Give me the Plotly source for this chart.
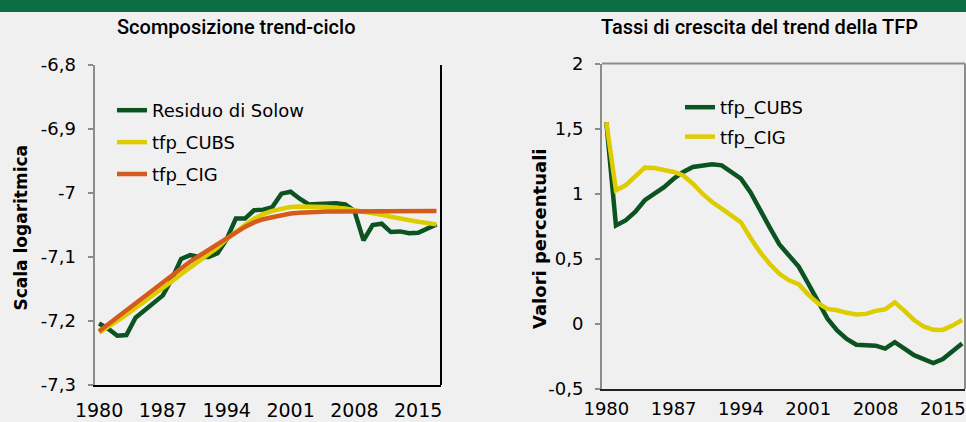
import plotly.graph_objects as go

# Anni (categorie)
years = list(range(1980, 2018))

# Scomposizione trend-ciclo (scala logaritmica)
residuo_solow = [-7.204, -7.212, -7.223, -7.222, -7.195, -7.184, -7.173, -7.160, -7.134, -7.103,
                 -7.097, -7.100, -7.100, -7.094, -7.072, -7.040, -7.040, -7.027, -7.026, -7.022,
                 -7.001, -6.998, -7.009, -7.018, -7.017, -7.016, -7.016, -7.018, -7.028, -7.074,
                 -7.050, -7.048, -7.061, -7.060, -7.063, -7.062, -7.055, -7.049]
tfp_cubs_livello = [-7.218, -7.210, -7.200, -7.190, -7.180, -7.170, -7.160, -7.149, -7.138, -7.127,
                    -7.117, -7.106, -7.095, -7.085, -7.072, -7.060, -7.050, -7.040, -7.033, -7.028,
                    -7.025, -7.022, -7.021, -7.021, -7.021, -7.022, -7.023, -7.024, -7.027, -7.029,
                    -7.031, -7.034, -7.037, -7.040, -7.043, -7.045, -7.047, -7.049]
tfp_cig_livello = [-7.216, -7.205, -7.194, -7.183, -7.172, -7.161, -7.150, -7.139, -7.128, -7.117,
                   -7.107, -7.098, -7.089, -7.079, -7.069, -7.060, -7.053, -7.046, -7.041, -7.038,
                   -7.035, -7.032, -7.031, -7.030, -7.030, -7.029, -7.029, -7.029, -7.028, -7.028,
                   -7.028, -7.028, -7.028, -7.028, -7.028, -7.028, -7.028, -7.028]

# Tassi di crescita del trend della TFP (valori percentuali)
tfp_cubs_crescita = [1.55, 0.756, 0.795, 0.86, 0.95, 1.0, 1.05, 1.115, 1.167, 1.205,
                     1.218, 1.226, 1.218, 1.167, 1.115, 1.01, 0.87, 0.74, 0.61, 0.526,
                     0.44, 0.31, 0.167, 0.04, -0.05, -0.115, -0.16, -0.167, -0.167, -0.19,
                     -0.14, -0.19, -0.24, -0.27, -0.30, -0.27, -0.21, -0.15]
tfp_cig_crescita = [1.55, 1.026, 1.064, 1.128, 1.2, 1.197, 1.185, 1.167, 1.14, 1.077,
                    1.0, 0.936, 0.885, 0.833, 0.78, 0.66, 0.55, 0.46, 0.385, 0.335,
                    0.305, 0.225, 0.16, 0.115, 0.105, 0.085, 0.072, 0.077, 0.10, 0.112,
                    0.165, 0.10, 0.03, -0.02, -0.045, -0.046, -0.013, 0.03]

# Etichette degli assi
tick_anni = [1980, 1987, 1994, 2001, 2008, 2015]
tick_anni_testo = ["1980", "1987", "1994", "2001", "2008", "2015"]
tick_sx = [-6.8, -6.9, -7.0, -7.1, -7.2, -7.3]
tick_sx_testo = ["-6,8", "-6,9", "-7", "-7,1", "-7,2", "-7,3"]
tick_dx = [2, 1.5, 1, 0.5, 0, -0.5]
tick_dx_testo = ["2", "1,5", "1", "0,5", "0", "-0,5"]

W, H = 966, 422
VERDE = "#0B5320"
GIALLO = "#DDCC00"
ARANCIO = "#D55A1B"
GRIGIO = "#8C8C8C"
SFONDO = "#F0F0F0"
FONT = "DejaVu Sans"

# separatori tra categorie (tacche dell'asse x)
confini = [y + 0.5 for y in years[:-1]]

dom_x1 = [94.5 / W, 441 / W]
dom_y1 = [1 - 385 / H, 1 - 65 / H]
dom_x2 = [602 / W, 965 / W]
dom_y2 = [1 - 389 / H, 1 - 63.5 / H]
range_x1 = [1979.5, 2017.5]
range_x2 = [1979.55, 2017.3]
range_y1 = [-7.3, -6.8]
range_y2 = [-0.5, 2]
# posizione dell'asse orizzontale sullo zero (grafico di destra)
pos_zero = dom_y2[0] + (0 - range_y2[0]) / (range_y2[1] - range_y2[0]) * (dom_y2[1] - dom_y2[0])

fig = go.Figure()

# Grafico di sinistra
fig.add_trace(go.Scatter(x=years, y=residuo_solow, name="Residuo di Solow", mode="lines",
                         line=dict(color=VERDE, width=4.5), xaxis="x", yaxis="y",
                         legend="legend", legendgroup="a"))
fig.add_trace(go.Scatter(x=years, y=tfp_cubs_livello, name="tfp_CUBS", mode="lines",
                         line=dict(color=GIALLO, width=4.5), xaxis="x", yaxis="y",
                         legend="legend", legendgroup="b"))
fig.add_trace(go.Scatter(x=years, y=tfp_cig_livello, name="tfp_CIG", mode="lines",
                         line=dict(color=ARANCIO, width=4.5), xaxis="x", yaxis="y",
                         legend="legend", legendgroup="c"))

# Grafico di destra
fig.add_trace(go.Scatter(x=years, y=tfp_cubs_crescita, name="tfp_CUBS", mode="lines",
                         line=dict(color=VERDE, width=4.5), xaxis="x2", yaxis="y2",
                         legend="legend2", legendgroup="d"))
fig.add_trace(go.Scatter(x=years, y=tfp_cig_crescita, name="tfp_CIG", mode="lines",
                         line=dict(color=GIALLO, width=4.5), xaxis="x2", yaxis="y2",
                         legend="legend2", legendgroup="e"))

fig.update_layout(
    width=W, height=H,
    margin=dict(l=0, r=0, t=0, b=0, autoexpand=False),
    paper_bgcolor=SFONDO, plot_bgcolor=SFONDO,
    font=dict(family=FONT, color="black"),
    showlegend=True,
    xaxis=dict(domain=dom_x1, anchor="y", range=range_x1, tickvals=tick_anni,
               ticktext=tick_anni_testo, ticks="", showline=True, linecolor="black",
               linewidth=1.5, showgrid=False, zeroline=False, automargin=False,
               tickfont=dict(size=19), ticklabelstandoff=7, ticklabeloverflow="allow"),
    xaxis3=dict(overlaying="x", anchor="y", side="top", range=range_x1, tickvals=confini,
                ticks="inside", ticklen=5, tickwidth=1.5, tickcolor=GRIGIO, showline=True,
                linecolor=GRIGIO, linewidth=2, showticklabels=False, showgrid=False,
                zeroline=False, automargin=False),
    yaxis=dict(domain=dom_y1, anchor="x", range=range_y1, tickvals=tick_sx,
               ticktext=tick_sx_testo, ticks="outside", ticklen=5, tickwidth=1.5,
               tickcolor=GRIGIO, showline=True, linecolor=GRIGIO, linewidth=2,
               showgrid=False, zeroline=False, tickfont=dict(size=18),
               ticklabelstandoff=8, automargin=False),
    xaxis2=dict(domain=dom_x2, anchor="y2", range=range_x2, tickvals=tick_anni,
                ticktext=tick_anni_testo, ticks="", showline=True, linecolor="#222222",
                linewidth=1.5, showgrid=False, zeroline=False, automargin=False,
                tickfont=dict(size=18), ticklabelstandoff=3, ticklabeloverflow="allow"),
    xaxis4=dict(overlaying="x2", anchor="free", position=pos_zero, side="bottom",
                range=range_x2, tickvals=confini, ticks="outside", ticklen=5, tickwidth=1.5,
                tickcolor=GRIGIO, showline=True, linecolor=GRIGIO, linewidth=2,
                showticklabels=False, showgrid=False, zeroline=False, automargin=False),
    yaxis2=dict(domain=dom_y2, anchor="x2", range=range_y2, tickvals=tick_dx,
                ticktext=tick_dx_testo, ticks="outside", ticklen=5, tickwidth=1.5,
                tickcolor=GRIGIO, showline=True, linecolor=GRIGIO, linewidth=2,
                showgrid=False, zeroline=False, tickfont=dict(size=18),
                ticklabelstandoff=8, automargin=False),
    legend=dict(x=112 / W, y=1 - 92 / H, xanchor="left", yanchor="top",
                bgcolor="rgba(0,0,0,0)", font=dict(size=18), tracegroupgap=5.5),
    legend2=dict(x=680 / W, y=1 - 89 / H, xanchor="left", yanchor="top",
                 bgcolor="rgba(0,0,0,0)", font=dict(size=18), tracegroupgap=3),
)

# Cornici dei riquadri e banda verde in alto
fig.add_shape(type="line", xref="x domain", yref="y domain", x0=1, x1=1, y0=0, y1=1,
              line=dict(color="black", width=2))
fig.add_shape(type="line", xref="x2 domain", yref="y2 domain", x0=0, x1=1, y0=1, y1=1,
              line=dict(color=GRIGIO, width=2))
fig.add_shape(type="line", xref="x2 domain", yref="y2 domain", x0=1, x1=1, y0=0, y1=1,
              line=dict(color=GRIGIO, width=2))
fig.add_shape(type="rect", xref="paper", yref="paper", x0=0, x1=1, y0=1 - 12 / H, y1=1,
              fillcolor="#0B6E44", line=dict(width=0), layer="below")

# Titoli
fig.add_annotation(text="Scomposizione trend-ciclo", xref="paper", yref="paper",
                   x=236.5 / W, y=1 - 27 / H, showarrow=False, xanchor="center",
                   yanchor="middle", font=dict(size=20, family="Roboto", weight=500))
fig.add_annotation(text="Tassi di crescita del trend della TFP", xref="paper", yref="paper",
                   x=759 / W, y=1 - 27 / H, showarrow=False, xanchor="center",
                   yanchor="middle", font=dict(size=20, family="Roboto", weight=500))
fig.add_annotation(text="<b>Scala logaritmica</b>", xref="paper", yref="paper",
                   x=20.5 / W, y=1 - 228 / H, showarrow=False, textangle=-90,
                   xanchor="center", yanchor="middle", font=dict(size=17))
fig.add_annotation(text="<b>Valori percentuali</b>", xref="paper", yref="paper",
                   x=539 / W, y=1 - 239 / H, showarrow=False, textangle=-90,
                   xanchor="center", yanchor="middle", font=dict(size=18))

# pagina senza margini, così il grafico occupa tutta la finestra
fig.write_html("out.html", config={"displayModeBar": False},
               post_script="document.body.style.margin='0';"
                           "document.body.style.overflow='hidden';")
